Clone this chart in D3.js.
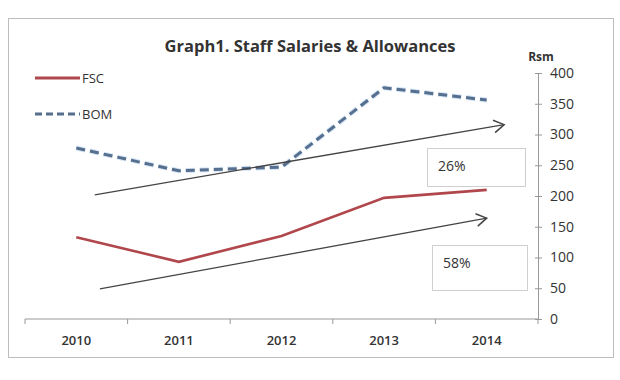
<!DOCTYPE html>
<html>
<head>
<meta charset="utf-8">
<script src="https://cdn.jsdelivr.net/npm/d3@7"></script>
<style>
  body { margin: 0; background: #fff; }
  svg { display: block; overflow: visible; }
  text { font-family: "Open Sans", "Noto Sans", sans-serif; fill: #333; }
</style>
</head>
<body>
<div id="chart"></div>
<script>
const years = ["2010", "2011", "2012", "2013", "2014"];
const fscValues = [133, 93, 135, 197, 210];
const bomValues = [278, 241, 247, 376, 356];
const yTicks = [0, 50, 100, 150, 200, 250, 300, 350, 400];
// trend arrows: [yearOffset, value] pairs (offset measured in categories from 2010)
const bomTrend = [[0.18, 202], [4.17, 316]];
const fscTrend = [[0.23, 49], [4.0, 164]];
const growthLabels = ["26%", "58%"];

const width = 620, height = 380;
const margin = { top: 73, right: 82, bottom: 61, left: 25 };

const svg = d3.select("#chart").append("svg")
  .attr("width", width)
  .attr("height", height);

// outer frame
svg.append("rect")
  .attr("x", 8.5).attr("y", 18.5)
  .attr("width", 605).attr("height", 339)
  .attr("fill", "#fff")
  .attr("stroke", "#bdbdbd");

const innerWidth = width - margin.left - margin.right;
const innerHeight = height - margin.top - margin.bottom;

const g = svg.append("g").attr("transform", `translate(${margin.left},${margin.top})`);

const x = d3.scaleBand().domain(years).range([0, innerWidth]);
const y = d3.scaleLinear().domain([0, 400]).range([innerHeight, 0]);
const xPos = i => x(years[0]) + x.bandwidth() / 2 + i * x.step();

// x axis with ticks between categories
g.append("line")
  .attr("x1", 0).attr("x2", innerWidth)
  .attr("y1", innerHeight).attr("y2", innerHeight)
  .attr("stroke", "#999");
g.selectAll(".xtick")
  .data(d3.range(years.length + 1))
  .join("line")
  .attr("x1", i => i * x.step()).attr("x2", i => i * x.step())
  .attr("y1", innerHeight).attr("y2", innerHeight + 5)
  .attr("stroke", "#999");
g.selectAll(".xlabel")
  .data(years)
  .join("text")
  .attr("x", d => x(d) + x.bandwidth() / 2)
  .attr("y", innerHeight + 26)
  .attr("text-anchor", "middle")
  .attr("font-size", "13px")
  .attr("font-weight", "600")
  .text(d => d);

// right y axis
const yAxis = g.append("g")
  .attr("transform", `translate(${innerWidth},0)`)
  .call(d3.axisRight(y).tickValues(yTicks).tickSize(4).tickPadding(8));
yAxis.select(".domain").attr("stroke", "#999");
yAxis.selectAll(".tick line").attr("stroke", "#999").attr("x1", -3);
yAxis.selectAll(".tick text")
  .attr("font-size", "14px")
  .attr("font-family", "'Open Sans', 'Noto Sans', sans-serif")
  .attr("fill", "#333");

svg.append("text")
  .attr("x", 541).attr("y", 61)
  .attr("text-anchor", "middle")
  .attr("font-size", "12px")
  .attr("font-weight", "bold")
  .text("Rsm");

// title
svg.append("text")
  .attr("x", 310).attr("y", 52)
  .attr("text-anchor", "middle")
  .attr("font-size", "16.5px")
  .attr("font-weight", "bold")
  .text("Graph1. Staff Salaries & Allowances");

// series lines
const line = d3.line().x((d, i) => xPos(i)).y(d => y(d));

g.append("path")
  .datum(bomValues)
  .attr("fill", "none")
  .attr("stroke", "#b8d4ee")
  .attr("stroke-width", 5)
  .attr("stroke-dasharray", "9,5")
  .attr("opacity", 0.6)
  .attr("d", line);
g.append("path")
  .datum(bomValues)
  .attr("fill", "none")
  .attr("stroke", "#566f8e")
  .attr("stroke-width", 3)
  .attr("stroke-dasharray", "9,5")
  .attr("d", line);

g.append("path")
  .datum(fscValues)
  .attr("fill", "none")
  .attr("stroke", "#b0474c")
  .attr("stroke-width", 2.6)
  .attr("d", line);

// trend arrows
const arrowLine = d3.line().x(d => xPos(d[0])).y(d => y(d[1]));
[bomTrend, fscTrend].forEach(t => {
  g.append("path")
    .datum(t)
    .attr("fill", "none")
    .attr("stroke", "#444")
    .attr("stroke-width", 1.3)
    .attr("d", arrowLine);
  const [x0, y0] = [xPos(t[0][0]), y(t[0][1])];
  const [x1, y1] = [xPos(t[1][0]), y(t[1][1])];
  const ang = Math.atan2(y1 - y0, x1 - x0);
  const len = 12, spread = 0.55;
  g.append("path")
    .attr("fill", "none")
    .attr("stroke", "#444")
    .attr("stroke-width", 1.5)
    .attr("d", `M${x1 - len * Math.cos(ang - spread)},${y1 - len * Math.sin(ang - spread)}L${x1},${y1}L${x1 - len * Math.cos(ang + spread)},${y1 - len * Math.sin(ang + spread)}`);
});

// percentage boxes
const boxes = [
  { x: 427, y: 148, w: 98, h: 38 },
  { x: 432, y: 245, w: 95, h: 45 }
];
boxes.forEach((b, i) => {
  svg.append("rect")
    .attr("x", b.x + 0.5).attr("y", b.y + 0.5)
    .attr("width", b.w).attr("height", b.h)
    .attr("fill", "#fff")
    .attr("stroke", "#cfcfcf");
  svg.append("text")
    .attr("x", b.x + 11).attr("y", b.y + 23)
    .attr("font-size", "14px")
    .text(growthLabels[i]);
});

// legend
const legend = [
  { name: "FSC", color: "#b0474c", dash: null, y: 78 },
  { name: "BOM", color: "#566f8e", dash: "7,4", y: 114 }
];
legend.forEach(l => {
  svg.append("line")
    .attr("x1", 35).attr("x2", 80)
    .attr("y1", l.y).attr("y2", l.y)
    .attr("stroke", l.color)
    .attr("stroke-width", 3)
    .attr("stroke-dasharray", l.dash);
  svg.append("text")
    .attr("x", 82).attr("y", l.y + 5)
    .attr("font-size", "13px")
    .text(l.name);
});
</script>
</body>
</html>
